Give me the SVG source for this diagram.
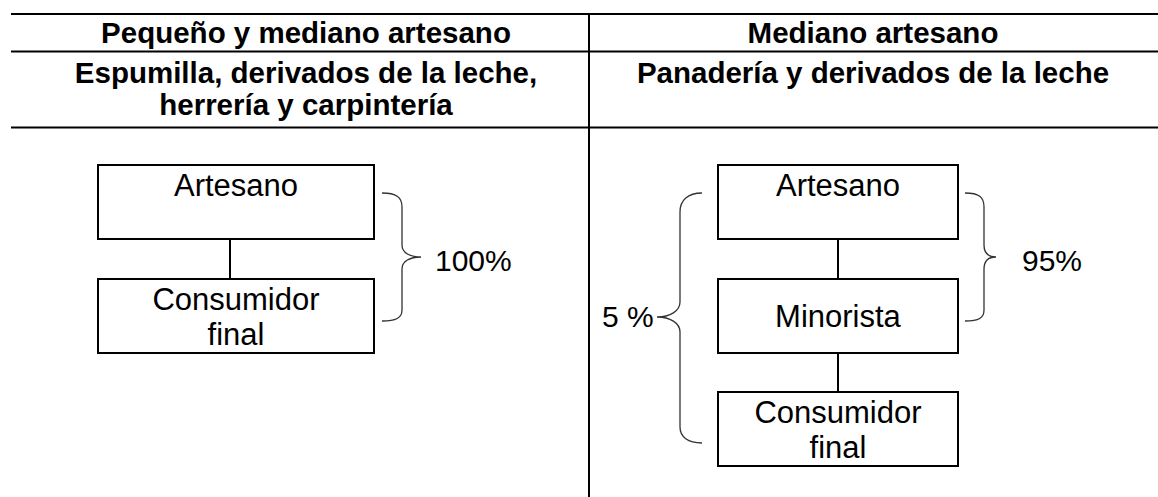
<svg xmlns="http://www.w3.org/2000/svg" width="1158" height="497" viewBox="0 0 1158 497">
<style>
.rule{stroke:#000;stroke-width:2;fill:none}
.box{fill:#fff;stroke:#000;stroke-width:2}
.conn{stroke:#000;stroke-width:2;fill:none}
.brace{stroke:#333;stroke-width:1.3;fill:none}
.h{font-family:"Liberation Sans",Arial,sans-serif;font-weight:bold;font-size:29.5px;fill:#000;text-anchor:middle}
.t{font-family:"Liberation Sans",Arial,sans-serif;font-size:31px;fill:#000;text-anchor:middle}
.p{font-family:"Liberation Sans",Arial,sans-serif;font-size:30px;fill:#000}
</style>
<rect width="1158" height="497" fill="#fff"/>
<g id="table">
<line class="rule" x1="11" y1="14" x2="1158" y2="14"/>
<line class="rule" x1="11" y1="51.5" x2="1158" y2="51.5"/>
<line class="rule" x1="11" y1="127.5" x2="1158" y2="127.5"/>
<line class="rule" x1="589" y1="14" x2="589" y2="497"/>
<text class="h" x="306" y="43">Pequeño y mediano artesano</text>
<text class="h" x="873" y="43">Mediano artesano</text>
<text class="h" x="306" y="83">Espumilla, derivados de la leche,</text>
<text class="h" x="306" y="115">herrería y carpintería</text>
<text class="h" x="873" y="83">Panadería y derivados de la leche</text>
</g>
<g id="connectors">
<line class="conn" x1="230" y1="239" x2="230" y2="279"/>
<line class="conn" x1="838" y1="239" x2="838" y2="279"/>
<line class="conn" x1="838" y1="353" x2="838" y2="392"/>
<path class="brace" d="M382,193 C396,193 402,197 402,207 L402,245 C402,253 410,257 421,257 C410,257 402,261 402,269 L402,310 C402,318 396,321 382,321"/>
<path class="brace" d="M965,193 C979,193 984,197 984,207 L984,245 C984,253 988,257 996,257 C988,257 984,261 984,269 L984,310 C984,318 979,321 965,321"/>
<path class="brace" d="M702,193 C688,193 680,200 680,212 L680,302 C680,311 670,317 657,317 C670,317 680,323 680,332 L680,427 C680,437 688,443 702,443"/>
</g>
<g id="artesano1">
<rect class="box" x="98" y="165" width="276" height="74"/>
<text class="t" x="236" y="196">Artesano</text>
</g>
<g id="consumidor1">
<rect class="box" x="98" y="279" width="276" height="74"/>
<text class="t" x="236" y="310">Consumidor</text>
<text class="t" x="236" y="345">final</text>
</g>
<g id="artesano2">
<rect class="box" x="718" y="165" width="240" height="74"/>
<text class="t" x="838" y="196">Artesano</text>
</g>
<g id="minorista">
<rect class="box" x="718" y="279" width="240" height="74"/>
<text class="t" x="838" y="327">Minorista</text>
</g>
<g id="consumidor2">
<rect class="box" x="718" y="392" width="240" height="74"/>
<text class="t" x="838" y="423">Consumidor</text>
<text class="t" x="838" y="458">final</text>
</g>
<g id="labels">
<text class="p" x="435" y="271">100%</text>
<text class="p" x="1022" y="271">95%</text>
<text class="p" x="602" y="327">5 %</text>
</g>
</svg>
